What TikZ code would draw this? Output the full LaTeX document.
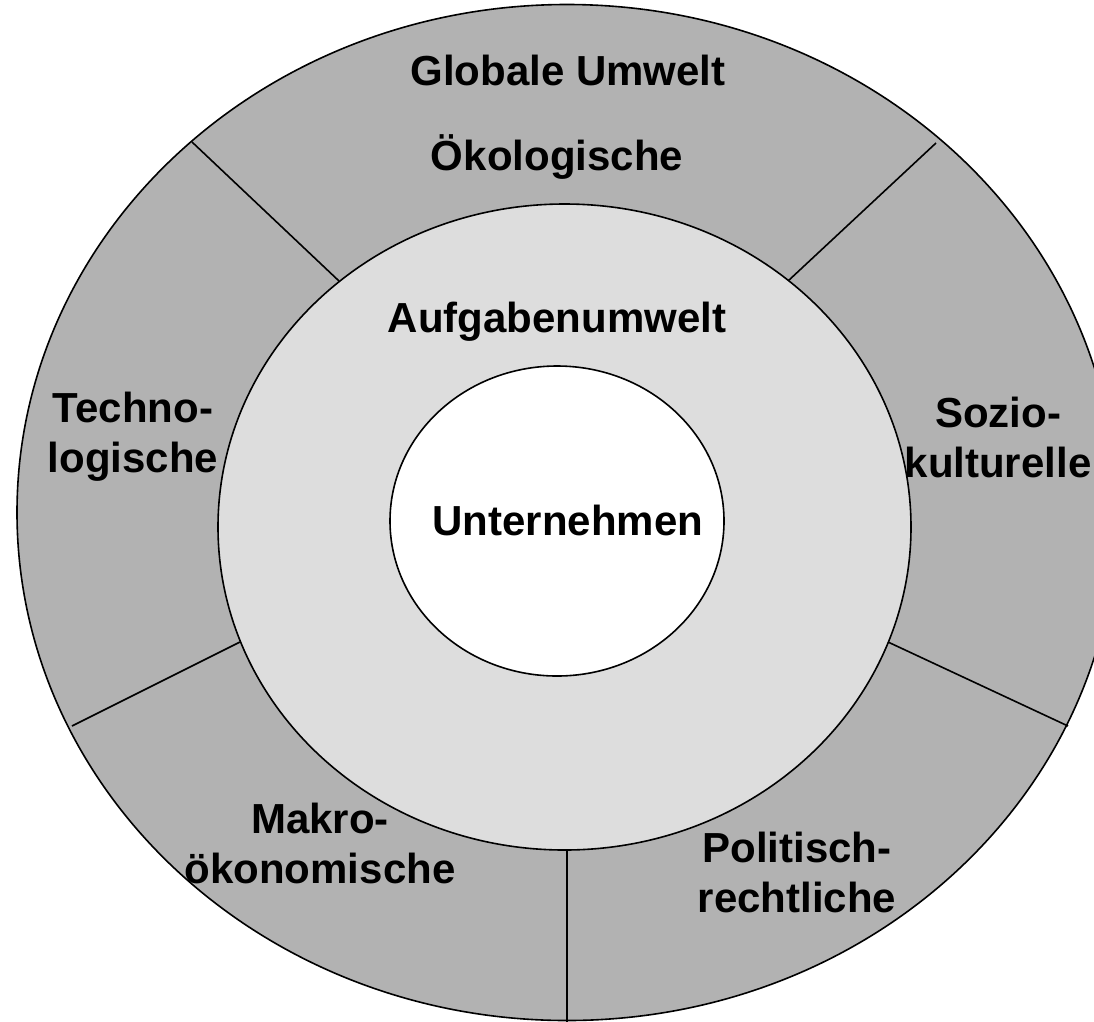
\documentclass[tikz,border=0pt]{standalone}
\usepackage{fontspec}
\setmainfont{Liberation Sans}
\begin{document}
\begin{tikzpicture}[x=1pt,y=-1pt,
  ring/.style={draw=black,line width=1.6pt},
  divider/.style={draw=black,line width=1.6pt},
  label/.style={font=\fontsize{42}{50}\selectfont\bfseries,align=center,inner sep=0pt}]
  \useasboundingbox (0,0) rectangle (1094,1021);
  \clip (0,0) rectangle (1094,1021);
  % outer ring: global environment
  \draw[ring,fill={rgb,255:red,178;green,178;blue,178}] (567,512.5) ellipse [x radius=550,y radius=508];
  % sector boundaries
  \coordinate (ul1) at (192,142);  \coordinate (ul2) at (339,281);
  \coordinate (ur1) at (936,143);  \coordinate (ur2) at (788,281);
  \coordinate (ll1) at (72,726);   \coordinate (ll2) at (240,642);
  \coordinate (lr1) at (1068,726); \coordinate (lr2) at (888,642);
  \coordinate (b1) at (567,1025);  \coordinate (b2) at (567,840);
  \draw[divider] (ul1) -- (ul2);
  \draw[divider] (ur1) -- (ur2);
  \draw[divider] (ll1) -- (ll2);
  \draw[divider] (lr1) -- (lr2);
  \draw[divider] (b1) -- (b2);
  % task environment
  \draw[ring,fill={rgb,255:red,221;green,221;blue,221}] (564.5,527) ellipse [x radius=346.5,y radius=323];
  % company
  \draw[ring,fill=white] (557,521) ellipse [x radius=167,y radius=155];
  % labels
  \node[label] (glob) at (568,70) {Globale Umwelt};
  \node[label] (oeko) at (557,157) {Ökologische};
  \node[label] (aufg) at (557,322) {Aufgabenumwelt};
  \node[label] (unt) at (568,520) {Unternehmen};
  \node[label] (tech) at (133,437) {Techno-\\logische};
  \node[label] (sozio) at (998,437) {Sozio-\\kulturelle};
  \node[label] (makro) at (320,843) {Makro-\\ökonomische};
  \node[label] (polit) at (797,872) {Politisch-\\rechtliche};
\end{tikzpicture}
\end{document}
